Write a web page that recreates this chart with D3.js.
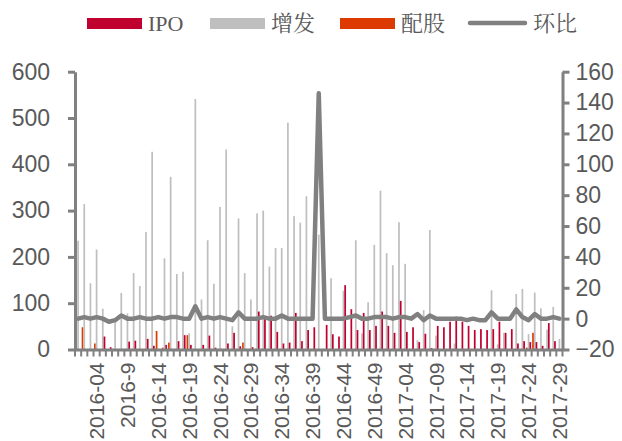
<!DOCTYPE html>
<html>
<head>
<meta charset="utf-8">
<script src="https://cdn.jsdelivr.net/npm/d3@7/dist/d3.min.js"></script>
<style>
  html, body { margin: 0; padding: 0; background: #fff; }
  svg { display: block; }
  .tick text { fill: #595959; font-family: "Liberation Sans", Arial, sans-serif; font-size: 23px; }
  .xaxis .tick text { font-size: 21px; }
</style>
</head>
<body>
<svg id="chart" width="622" height="441"></svg>
<script>
// Weekly equity financing: IPO, 增发 (private placements), 配股 (rights issues), and week-on-week change (环比, %)
const weeks = [
  "2016-01","2016-02","2016-03","2016-04","2016-5","2016-6","2016-7","2016-8","2016-9","2016-10",
  "2016-11","2016-12","2016-13","2016-14","2016-15","2016-16","2016-17","2016-18","2016-19","2016-20",
  "2016-21","2016-22","2016-23","2016-24","2016-25","2016-26","2016-27","2016-28","2016-29","2016-30",
  "2016-31","2016-32","2016-33","2016-34","2016-35","2016-36","2016-37","2016-38","2016-39","2016-40",
  "2016-41","2016-42","2016-43","2016-44","2016-45","2016-46","2016-47","2016-48","2016-49","2016-50",
  "2016-51","2016-52","2017-03","2017-04","2017-05","2017-06","2017-07","2017-08","2017-09","2017-10",
  "2017-11","2017-12","2017-13","2017-14","2017-15","2017-16","2017-17","2017-18","2017-19","2017-20",
  "2017-21","2017-22","2017-23","2017-24","2017-25","2017-26","2017-27","2017-28","2017-29"
];

const ipo = [
  0, 0, 0, 0, 28, 5, 0, 0, 17, 19,
  0, 23, 8, 0, 10, 0, 18, 31, 10, 0,
  10, 30, 4, 0, 13, 36, 7, 0, 5, 82,
  71, 73, 38, 13, 15, 79, 18, 42, 48, 0,
  53, 33, 28, 139, 87, 42, 79, 42, 51, 82,
  51, 36, 105, 38, 48, 16, 34, 3, 51, 48,
  60, 71, 60, 51, 42, 44, 42, 44, 60, 36,
  44, 13, 18, 16, 16, 8, 57, 18, 0
];

const placement = [
  235, 314, 143, 216, 88, 0, 62, 122, 78, 165,
  137, 254, 427, 0, 197, 373, 163, 168, 35, 541,
  108, 236, 142, 308, 432, 50, 283, 165, 108, 294,
  300, 179, 219, 219, 490, 288, 274, 331, 0, 248,
  0, 154, 0, 127, 0, 236, 35, 102, 226, 343,
  208, 182, 275, 185, 0, 20, 85, 258, 30, 0,
  0, 13, 0, 0, 0, 0, 0, 128, 11, 36,
  0, 120, 131, 33, 123, 89, 43, 92, 23
];

const rights = [
  0, 48, 0, 13, 0, 0, 0, 0, 0, 0,
  0, 0, 0, 40, 4, 15, 0, 0, 31, 0,
  0, 0, 0, 0, 0, 0, 0, 15, 0, 0,
  0, 0, 0, 0, 0, 0, 0, 0, 0, 0,
  0, 0, 0, 0, 0, 0, 0, 0, 0, 0,
  0, 0, 0, 0, 0, 0, 0, 0, 0, 0,
  0, 0, 0, 0, 0, 0, 0, 0, 0, 0,
  0, 0, 0, 4, 36, 0, 0, 0, 0
];

const wow = [
  0, 1, 0, 1, 0, -2, -1, 2, 0, 0,
  1, 0, 0, 1, 0, 1, 1, 0, 0, 8,
  0, 1, 0, 1, 0, -1, 4, 0, 0, 0,
  1, 0, 0, 2, 0, 0, 0, 0, 0, 146,
  0, 0, 0, 0, 1, 2, 0, 0, 1, 1,
  1, 0, 1, 1, 0, 3, -1, 2, 0, 0,
  0, 0, 0, -1, 0, -1, -1, 4, 0, 0,
  0, 6, 1, -1, 3, 0, 0, 1, 0
];

const leftTicks = [0, 100, 200, 300, 400, 500, 600];
const rightTicks = [-20, 0, 20, 40, 60, 80, 100, 120, 140, 160];

const seriesNames = ["IPO", "增发", "配股", "环比"];
const seriesColors = { "IPO": "#C0002F", "增发": "#BFBFBF", "配股": "#DC3A00", "环比": "#808080" };

const barSeries = [
  { key: "配股", values: rights },
  { key: "增发", values: placement },
  { key: "IPO", values: ipo }
];

const svg = d3.select("#chart");
const plot = { left: 75, right: 562.5, top: 71.7, bottom: 349.5 };
const axisColor = "#808080";

const x = d3.scaleBand().domain(weeks).range([plot.left, plot.right]).padding(0);
const bw = x.bandwidth();
const xInner = d3.scaleBand().domain(barSeries.map(s => s.key)).range([0.5, bw - 0.5]).padding(0);
const yL = d3.scaleLinear().domain([0, 600]).range([plot.bottom, plot.top]);
const yR = d3.scaleLinear().domain([-20, 160]).range([plot.bottom, plot.top]);

// bars
const barG = svg.append("g");
barSeries.forEach(s => {
  barG.append("g")
    .attr("fill", seriesColors[s.key])
    .selectAll("rect")
    .data(weeks.map((w, i) => ({ w, v: s.values[i] })).filter(d => d.v > 0))
    .join("rect")
    .attr("x", d => x(d.w) + xInner(s.key))
    .attr("width", xInner.bandwidth())
    .attr("y", d => yL(d.v))
    .attr("height", d => yL(0) - yL(d.v));
});

// left axis
const axL = svg.append("g")
  .attr("transform", `translate(${plot.left},0)`)
  .call(d3.axisLeft(yL).tickValues(leftTicks).tickSize(7).tickSizeOuter(0).tickPadding(18));
// right axis
const axR = svg.append("g")
  .attr("transform", `translate(${plot.right},0)`)
  .call(d3.axisRight(yR).tickValues(rightTicks).tickSize(7).tickSizeOuter(0).tickPadding(6));
[axL, axR].forEach(g => {
  g.select(".domain").attr("stroke", axisColor).attr("stroke-width", 3);
  g.selectAll(".tick line").attr("stroke", axisColor).attr("stroke-width", 3);
});

// bottom axis: labels every fifth week, tick marks on category boundaries
const axB = svg.append("g")
  .attr("class", "xaxis")
  .attr("transform", `translate(0,${plot.bottom})`)
  .call(d3.axisBottom(x)
    .tickValues(weeks.filter((w, i) => i % 5 === 3))
    .tickSize(0).tickSizeOuter(0).tickPadding(0));
axB.select(".domain").attr("stroke", axisColor).attr("stroke-width", 3);
axB.selectAll(".tick text")
  .attr("text-anchor", "end")
  .attr("transform", "rotate(-90)")
  .attr("x", -13)
  .attr("y", 0)
  .attr("dy", "0.36em");

const bounds = weeks.map(w => x(w)).concat([x(weeks[weeks.length - 1]) + bw]);
svg.append("g")
  .attr("stroke", axisColor).attr("stroke-width", 2)
  .selectAll("line")
  .data(bounds)
  .join("line")
  .attr("x1", d => d).attr("x2", d => d)
  .attr("y1", plot.bottom).attr("y2", plot.bottom + 7);

// week-on-week line
const line = d3.line()
  .x((d, i) => x(weeks[i]) + bw / 2)
  .y(d => yR(d));
svg.append("path")
  .datum(wow)
  .attr("fill", "none")
  .attr("stroke", seriesColors["环比"])
  .attr("stroke-width", 4.5)
  .attr("stroke-linejoin", "round")
  .attr("stroke-linecap", "round")
  .attr("d", line);

// legend
const legendX = [87, 210, 340, 468];
const legend = svg.append("g");
seriesNames.forEach((name, i) => {
  const g = legend.append("g").attr("transform", `translate(${legendX[i]},0)`);
  if (name === "环比") {
    g.append("line").attr("x1", 2).attr("x2", 57).attr("y1", 23).attr("y2", 23)
      .attr("stroke", seriesColors[name]).attr("stroke-width", 4.5).attr("stroke-linecap", "round");
  } else {
    g.append("rect").attr("x", 0).attr("y", 18).attr("width", 55).attr("height", 11)
      .attr("fill", seriesColors[name]);
  }
  g.append("text")
    .attr("x", name === "环比" ? 65 : 61)
    .attr("y", 31)
    .attr("fill", "#595959")
    .attr("font-family", "'Liberation Serif', 'Noto Serif CJK SC', 'Noto Sans CJK SC', serif")
    .attr("font-size", 22)
    .text(name);
});
</script>
</body>
</html>
